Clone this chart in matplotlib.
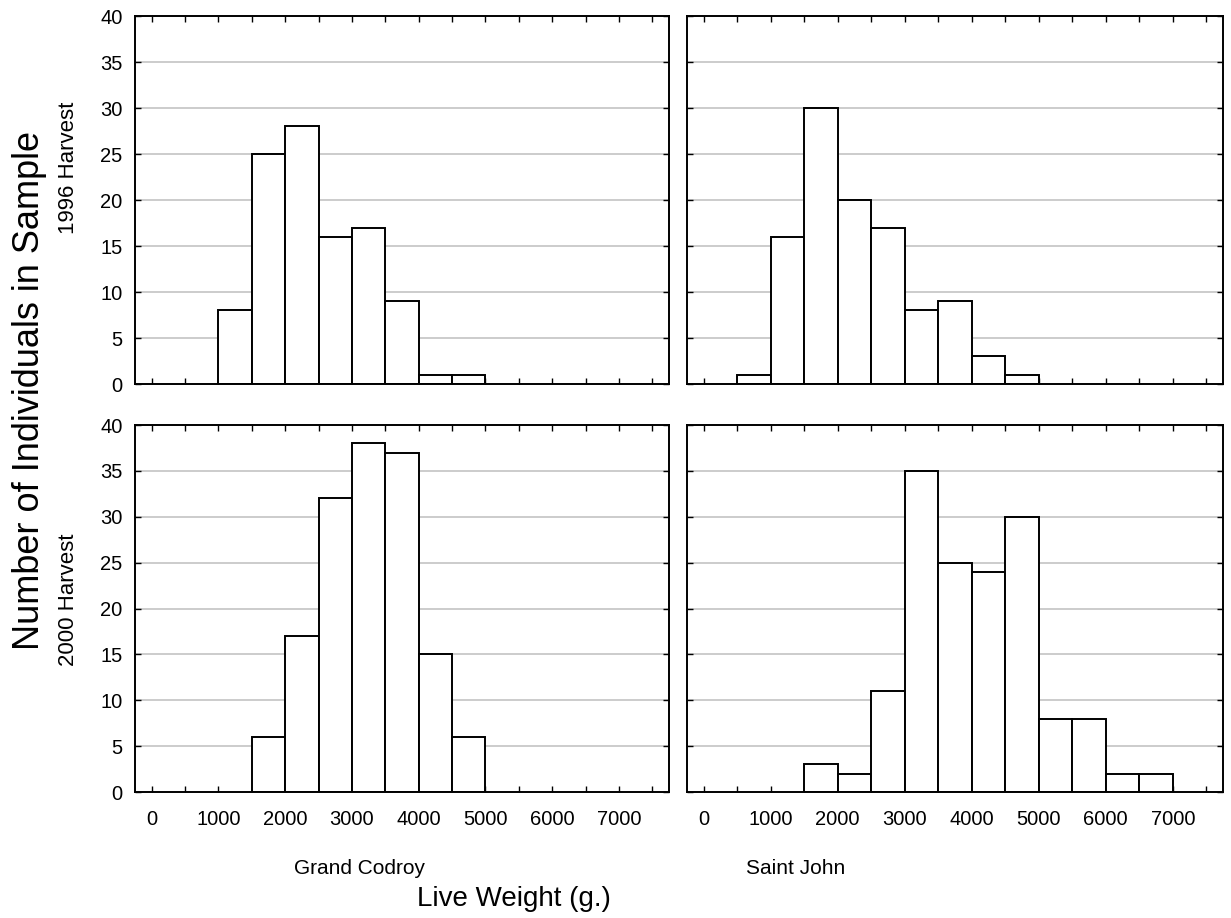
import matplotlib
matplotlib.use("Agg")
import matplotlib.pyplot as plt

plt.rcParams['font.family'] = ['Liberation Sans', 'DejaVu Sans']

bin_width = 500
bin_lefts = [0, 500, 1000, 1500, 2000, 2500, 3000, 3500, 4000, 4500, 5000, 5500, 6000, 6500, 7000]
gc_1996 = [0, 0, 8, 25, 28, 16, 17, 9, 1, 1, 0, 0, 0, 0, 0]
sj_1996 = [0, 1, 16, 30, 20, 17, 8, 9, 3, 1, 0, 0, 0, 0, 0]
gc_2000 = [0, 0, 0, 6, 17, 32, 38, 37, 15, 6, 0, 0, 0, 0, 0]
sj_2000 = [0, 0, 0, 3, 2, 11, 35, 25, 24, 30, 8, 8, 2, 2, 0]

x_ticks = [0, 500, 1000, 1500, 2000, 2500, 3000, 3500, 4000, 4500, 5000, 5500, 6000, 6500, 7000, 7500]
x_labels = ['0', '', '1000', '', '2000', '', '3000', '', '4000', '', '5000', '', '6000', '', '7000', '']
y_ticks = [0, 5, 10, 15, 20, 25, 30, 35, 40]
site_names = ['Grand Codroy', 'Saint John']
row_names = ['1996 Harvest', '2000 Harvest']

W, H = 1231, 918
fig = plt.figure(figsize=(W / 100, H / 100), dpi=100)

cols = [(135, 669), (687, 1223)]
rows = [(16, 384), (425, 792)]
data = [[gc_1996, sj_1996], [gc_2000, sj_2000]]

tick_fs = 14.5
for r, (yt, yb) in enumerate(rows):
    for c, (xl, xr) in enumerate(cols):
        ax = fig.add_axes([xl / W, 1 - yb / H, (xr - xl) / W, (yb - yt) / H])
        ax.set_xlim(-250, 7750)
        ax.set_ylim(0, 40)
        for yv in y_ticks[1:-1]:
            ax.axhline(yv, color='#c8c8c8', lw=1.3, zorder=1)
        vals = data[r][c]
        lefts = [b for b, v in zip(bin_lefts, vals) if v > 0]
        heights = [v for v in vals if v > 0]
        ax.bar(lefts, heights, width=bin_width, align='edge', color='white',
               edgecolor='black', linewidth=1.4, zorder=2)
        ax.set_xticks(x_ticks)
        ax.set_yticks(y_ticks)
        ax.tick_params(axis='y', direction='in', length=4, width=1, right=True,
                       labelsize=tick_fs, pad=9)
        ax.tick_params(axis='x', direction='in', length=4, width=1, top=True,
                       labelsize=tick_fs, pad=13)
        if r == 1:
            ax.set_xticklabels(x_labels)
        else:
            ax.set_xticklabels([])
        if c == 0:
            ax.set_yticklabels([str(v) for v in y_ticks])
        else:
            ax.set_yticklabels([])
        for s in ax.spines.values():
            s.set_linewidth(1.4)

fig.text(360 / W, 1 - 868 / H, site_names[0], ha='center', va='center', fontsize=15)
fig.text(796 / W, 1 - 868 / H, site_names[1], ha='center', va='center', fontsize=15)
fig.text(514 / W, 1 - 899 / H, 'Live Weight (g.)', ha='center', va='center', fontsize=20)
fig.text(30 / W, 1 - 390 / H, 'Number of Individuals in Sample', ha='center', va='center',
         rotation=90, fontsize=26)
fig.text(68 / W, 1 - 168 / H, row_names[0], ha='center', va='center', rotation=90, fontsize=16)
fig.text(68 / W, 1 - 600 / H, row_names[1], ha='center', va='center', rotation=90, fontsize=16)

fig.savefig('out.png', dpi=100)
